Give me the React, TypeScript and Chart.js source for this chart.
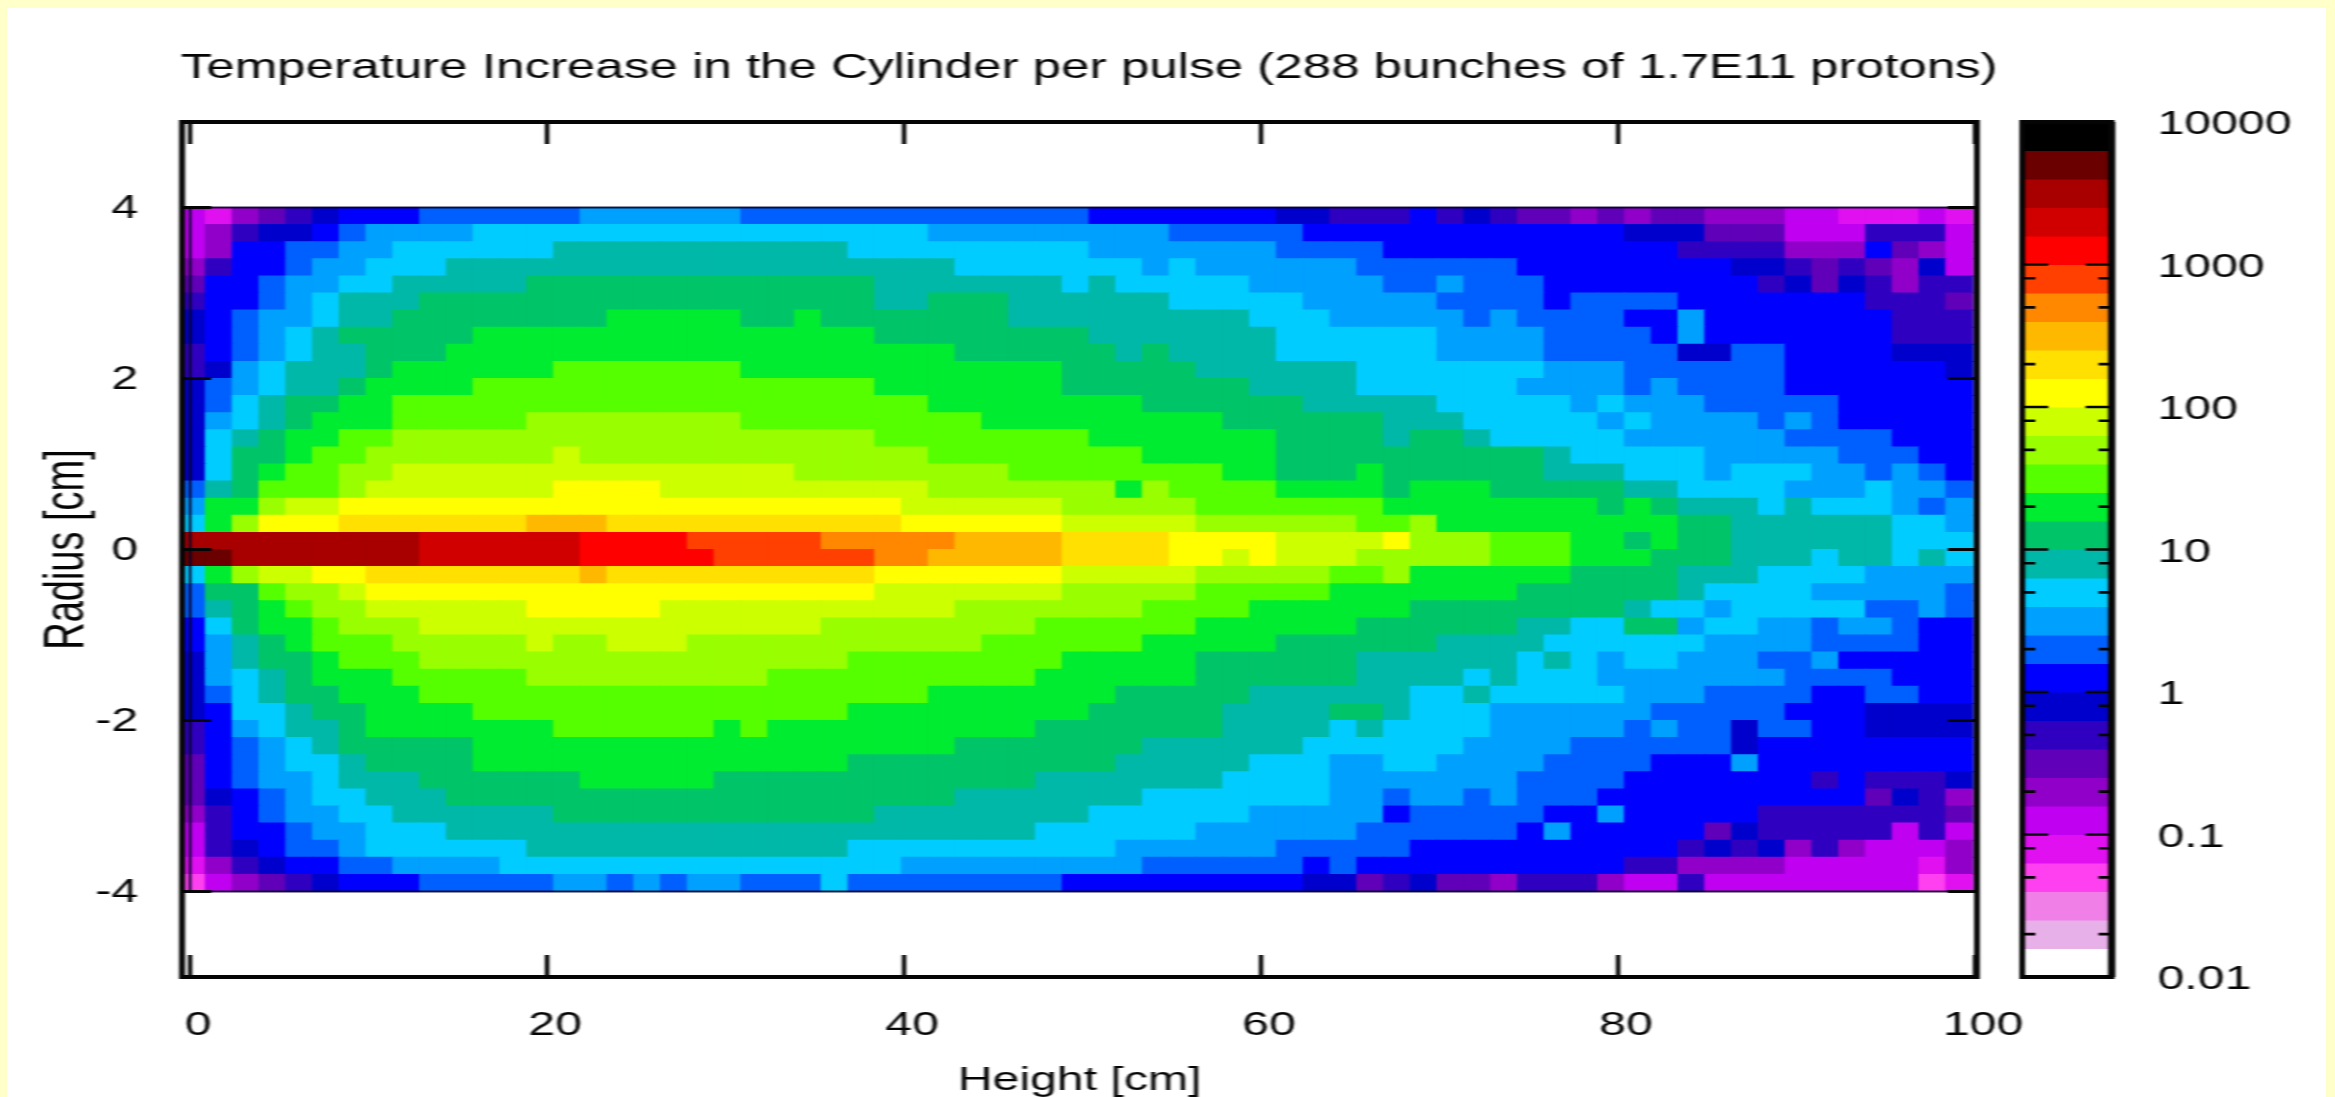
import React, { useEffect, useRef } from "react";
import { Chart, registerables } from "chart.js";

Chart.register(...registerables);

const titleText = "Temperature Increase in the Cylinder per pulse (288 bunches of 1.7E11 protons)";
const xAxisTitle = "Height [cm]";
const yAxisTitle = "Radius [cm]";
const xTickValues = [0, 20, 40, 60, 80, 100];
const yTickValues = [-4, -2, 0, 2, 4];
const colorMajorTicks = [0.01, 0.1, 1, 10, 100, 1000, 10000];
const colorMinorTicks = [0.02, 0.05, 0.08, 0.2, 0.5, 0.8, 2, 5, 8, 20, 50, 80, 200, 500, 800];
const cylinderX = [0, 0, 100, 100, 0];
const cylinderY = [-4, 4, 4, -4, -4];

// 30 colour levels, 0.2 decade each, from 0.01 to 10000
const palette = [
  "#ffffff", "#e8b0e8", "#f080e8", "#ff40f0", "#e010f0", "#c000f0", "#9000c8", "#6000b8", "#3000c0", "#0000cc",
  "#0000ff", "#0060ff", "#00a0ff", "#00ccff", "#00b8a8", "#00c468", "#00ec30", "#55ff00", "#99ff00", "#ccff00",
  "#ffff00", "#ffe000", "#ffb800", "#ff8800", "#ff4000", "#ff0000", "#d00000", "#a80000", "#6a0000", "#000000",
];

// each row, from r = +4 down to r = -4: pairs of (first column of a run, colour level)
const row00 = [0,5,1,4,2,6,3,7,4,8,5,9,6,10,9,11,15,12,21,11,34,10,41,9,43,8,46,10,47,8,48,9,49,8,50,7,52,6,53,7,54,6,55,7,57,6,60,5,62,4,65,5,66,4];
const row01 = [0,5,1,6,2,8,3,9,5,10,6,11,7,12,11,13,28,12,37,11,42,10,54,9,57,7,60,5,63,8,66,5];
const row02 = [0,5,1,6,2,10,4,11,6,12,8,13,14,14,25,13,34,12,41,11,45,10,56,8,60,6,63,10,64,7,65,6,66,5];
const row03 = [0,6,1,8,2,10,4,11,5,12,7,13,10,14,29,13,36,12,37,13,38,12,44,11,50,10,58,9,60,8,61,7,62,8,63,7,64,6,65,9,66,5];
const row04 = [0,7,1,10,3,11,4,12,6,13,8,14,13,15,26,14,33,13,34,14,35,13,40,12,45,11,47,12,48,11,51,10,59,8,60,9,61,7,62,9,63,8,64,6,65,8];
const row05 = [0,8,1,10,3,11,4,12,5,13,6,14,9,15,26,14,28,15,31,14,37,13,42,12,47,11,51,10,52,11,56,10,63,8,66,7];
const row06 = [0,9,1,10,2,11,3,12,5,13,6,14,8,15,16,16,21,15,23,16,24,15,31,14,40,13,43,12,48,11,49,12,50,11,54,10,56,12,57,10,64,8];
const row07 = [0,9,1,10,2,11,3,12,4,13,5,14,6,15,11,16,26,15,34,14,41,13,47,12,51,11,55,10,56,12,57,10,64,8];
const row08 = [0,8,1,10,2,11,3,12,4,13,5,14,7,15,10,16,29,15,35,14,36,15,37,14,41,13,47,12,51,11,56,9,58,11,60,10,64,9];
const row09 = [0,8,1,9,2,12,3,13,4,14,7,15,8,16,14,17,21,16,33,15,38,14,44,13,51,12,54,11,60,10,66,9];
const row10 = [0,9,1,11,2,12,3,13,4,14,6,15,7,16,11,17,26,16,33,15,40,14,44,13,50,12,54,11,55,12,56,11,60,10];
const row11 = [0,9,1,11,2,13,3,14,4,15,6,16,8,17,28,16,36,15,42,14,47,13,52,12,53,13,54,12,57,11,62,10];
const row12 = [0,9,1,12,2,13,3,14,4,15,5,16,8,17,13,18,21,17,30,16,39,15,45,14,48,13,53,12,54,13,55,12,59,11,60,12,61,11,62,10];
const row13 = [0,9,1,13,2,14,3,15,4,16,6,17,8,18,26,17,34,16,41,15,45,14,46,15,48,14,49,13,54,12,60,11,64,10];
const row14 = [0,9,1,13,2,15,4,16,5,17,7,18,14,19,15,18,28,17,36,16,41,15,51,14,52,13,57,12,62,11,65,10];
const row15 = [0,9,1,13,2,15,3,16,4,17,6,18,8,19,23,18,31,17,39,16,41,15,44,16,45,15,51,14,54,13,57,12,58,13,61,12,63,11,64,12,65,11,66,10];
const row16 = [0,11,1,14,2,15,3,17,6,18,7,19,14,20,18,19,28,18,35,16,36,18,37,17,41,16,45,15,46,16,49,15,54,14,56,13,60,12,63,13,64,12,66,11];
const row17 = [0,12,1,16,3,18,4,19,6,20,27,19,33,18,38,17,45,16,53,15,54,16,55,15,56,14,59,13,60,14,61,13,64,12,65,11,66,12];
const row18 = [0,13,1,16,2,18,3,20,6,21,13,22,16,21,27,20,33,19,38,18,44,17,46,18,47,16,56,15,58,14,64,13,66,12];
const row19 = [0,27,9,26,15,25,19,24,24,23,29,22,33,21,37,20,41,19,45,20,46,18,49,17,52,16,54,15,55,16,56,15,58,14,64,13];
const row20 = [0,28,2,27,9,26,15,25,20,24,26,23,28,22,33,21,37,20,39,19,40,20,41,19,44,18,49,17,52,16,55,15,58,14,61,13,62,14,64,13,65,14,66,13];
const row21 = [0,13,1,16,2,18,3,19,5,20,7,21,15,22,16,21,26,20,33,19,38,18,43,17,45,18,46,16,52,15,56,14,59,13,63,12];
const row22 = [0,11,1,15,3,17,4,18,6,19,7,20,26,19,33,18,38,17,43,16,50,15,56,14,57,13,61,12,66,11];
const row23 = [0,11,1,14,2,15,3,16,4,17,5,18,7,19,13,20,18,19,29,18,36,17,40,16,46,15,54,14,55,13,57,12,58,13,63,11,65,12,66,11];
const row24 = [0,10,1,13,2,15,3,16,5,17,6,18,9,19,24,18,32,17,38,16,44,15,50,14,52,13,54,15,56,12,57,13,59,12,61,11,62,12,64,11,65,10];
const row25 = [0,10,1,12,2,14,3,15,4,16,5,17,8,18,13,19,14,18,16,19,19,18,30,17,36,16,41,15,47,14,51,13,57,12,61,11,65,10];
const row26 = [0,9,1,12,2,14,3,15,5,16,6,17,9,18,25,17,33,16,38,15,44,14,50,13,51,14,52,13,53,12,54,13,56,12,59,11,61,12,62,10];
const row27 = [0,9,1,12,2,13,3,14,4,15,5,16,8,17,13,18,22,17,32,16,38,15,44,14,48,13,49,14,50,13,53,12,60,11,64,10];
const row28 = [0,9,1,11,2,13,3,14,4,15,6,16,9,17,28,16,35,15,40,14,46,13,48,14,49,13,54,12,57,11,61,10,63,11,65,10];
const row29 = [0,9,1,10,2,13,4,14,5,15,7,16,11,17,25,16,34,15,39,14,43,15,45,14,46,13,49,12,55,11,60,10,63,9];
const row30 = [0,8,1,10,2,12,3,13,4,14,6,15,7,16,14,17,20,16,21,17,22,16,32,15,39,14,43,13,44,14,45,13,49,12,54,11,55,12,56,11,58,9,59,11,61,10,63,9];
const row31 = [0,8,1,10,2,11,3,12,4,13,5,14,6,15,11,16,29,15,36,14,42,13,48,12,52,11,58,9,59,10];
const row32 = [0,7,1,10,2,11,3,12,4,13,6,14,7,15,11,16,25,15,35,14,40,13,43,12,45,13,47,12,51,11,55,10,58,12,59,10];
const row33 = [0,7,1,10,2,11,3,12,5,13,6,14,9,15,15,16,20,15,32,14,39,13,43,12,50,11,54,10,61,8,62,10,63,8,66,9];
const row34 = [0,7,1,9,2,10,3,11,4,12,5,13,7,14,10,15,29,14,36,13,43,12,45,11,46,12,48,11,49,12,50,11,53,10,63,7,64,9,65,8,66,6];
const row35 = [0,6,1,8,2,10,3,11,4,12,6,13,8,14,14,15,26,14,34,13,40,12,45,10,46,11,51,10,53,12,54,10,59,8,66,7];
const row36 = [0,5,1,8,2,10,4,11,5,12,7,13,10,14,32,13,38,12,44,11,50,10,51,12,52,10,57,7,58,9,59,8,64,5,65,8,66,5];
const row37 = [0,5,1,8,2,9,3,10,4,11,6,12,7,13,13,14,25,13,35,12,41,11,46,10,56,8,57,9,58,8,59,9,60,6,61,8,62,6,63,5,66,6];
const row38 = [0,4,1,6,2,8,3,9,4,10,6,11,8,12,12,13,27,12,36,11,42,10,43,11,44,10,54,8,56,6,60,5,65,4,66,6];
const row39 = [0,3,1,5,2,6,3,7,4,8,5,9,6,10,9,11,14,12,16,11,17,12,18,11,19,12,21,11,24,13,25,11,33,10,42,9,44,7,45,8,46,9,47,7,49,6,50,8,53,6,54,5,56,8,57,5,65,3,66,4];
const levelRows = [
  row00,row01,row02,row03,row04,row05,row06,row07,row08,row09,
  row10,row11,row12,row13,row14,row15,row16,row17,row18,row19,
  row20,row21,row22,row23,row24,row25,row26,row27,row28,row29,
  row30,row31,row32,row33,row34,row35,row36,row37,row38,row39,
];
const columnCount = 67;
const firstColumnCentre = 0.12;
const columnWidth = 1.5;
const rowTop = 4;
const rowHeight = 0.2;

const STRETCH = 1.46;
const px = (v: number) => v / STRETCH;
const INK = "#050505";

const heatPoints: any[] = [];
const heatColors: string[] = [];
levelRows.forEach((runs, j) => {
  for (let r = 0; r < runs.length; r += 2) {
    const end = r + 2 < runs.length ? runs[r + 2] : columnCount;
    for (let c = runs[r]; c < end; c++) {
      const top = rowTop - j * rowHeight;
      heatPoints.push({ x: firstColumnCentre + c * columnWidth, y: [top - rowHeight, top] });
      heatColors.push(palette[runs[r + 1]]);
    }
  }
});

const framePlugin = {
  id: "frame",
  afterDatasetsDraw(chart: any, _a: any, o: any) {
    const { ctx, chartArea: a, scales } = chart;
    ctx.save();
    ctx.strokeStyle = INK;
    ctx.lineWidth = o.tickWidth;
    ctx.beginPath();
    if (scales.x && o.xLen) {
      scales.x.ticks.forEach((t: any) => {
        const p = scales.x.getPixelForValue(t.value);
        ctx.moveTo(p, a.top); ctx.lineTo(p, a.top + o.xLen);
        ctx.moveTo(p, a.bottom); ctx.lineTo(p, a.bottom - o.xLen);
      });
    }
    scales.y.ticks.forEach((t: any) => {
      const p = scales.y.getPixelForValue(t.value);
      const len = t.label ? o.yLen : o.yMinorLen;
      ctx.moveTo(a.left, p); ctx.lineTo(a.left + len, p);
      ctx.moveTo(a.right, p); ctx.lineTo(a.right - len, p);
    });
    ctx.stroke();
    ctx.lineWidth = 4;
    ctx.strokeRect(a.left, a.top, a.right - a.left, a.bottom - a.top);
    if (o.rightWidth) {
      ctx.lineWidth = o.rightWidth;
      ctx.beginPath();
      ctx.moveTo(a.right, a.top); ctx.lineTo(a.right, a.bottom);
      ctx.stroke();
    }
    ctx.restore();
  },
};

export default function App() {
  const mainRef = useRef<HTMLCanvasElement>(null);
  const barRef = useRef<HTMLCanvasElement>(null);

  useEffect(() => {
    document.body.style.margin = "0";
    document.body.style.background = "#ffffca";
    const family = "'Liberation Sans', Arial, sans-serif";

    const main = new Chart(mainRef.current as any, {
      type: "bar",
      data: {
        datasets: [
          {
            type: "bar",
            label: "Temperature increase level",
            data: heatPoints,
            backgroundColor: heatColors,
            borderWidth: 0,
            barPercentage: 1,
            categoryPercentage: 1,
            inflateAmount: 0.5,
            order: 2,
          },
          {
            type: "line",
            label: "Cylinder outline",
            data: cylinderX.map((x, i) => ({ x, y: cylinderY[i] })),
            borderColor: "rgba(5,0,40,0.85)",
            borderWidth: 2,
            pointRadius: 0,
            tension: 0,
            order: 1,
          },
        ] as any,
      },
      options: {
        responsive: false,
        animation: false,
        events: [],
        layout: { padding: 0 },
        plugins: {
          legend: { display: false },
          tooltip: { enabled: false },
          title: {
            display: true,
            text: titleText,
            color: INK,
            font: { family, size: 35, weight: "normal", lineHeight: 1 },
            padding: { top: 51, bottom: 36 },
          },
          frame: { tickWidth: 3, xLen: 22, yLen: 20, yMinorLen: 20 },
        } as any,
        scales: {
          x: {
            type: "linear",
            min: -0.45,
            max: 100.11,
            offset: false,
            grid: { display: false, drawTicks: false },
            border: { display: false },
            afterBuildTicks: (s: any) => { s.ticks = xTickValues.map((value) => ({ value })); },
            afterFit: (s: any) => { s.height = 1097 - 977; },
            ticks: {
              autoSkip: false,
              maxRotation: 0,
              color: INK,
              padding: 32,
              labelOffset: px(8),
              font: { family, size: 33, lineHeight: 1 },
            },
            title: {
              display: true,
              text: xAxisTitle,
              color: INK,
              font: { family, size: 33, lineHeight: 1 },
              padding: { top: 0, bottom: 0 },
            },
          },
          y: {
            type: "linear",
            min: -5,
            max: 5,
            grid: { display: false, drawTicks: false },
            border: { display: false },
            afterBuildTicks: (s: any) => { s.ticks = yTickValues.map((value) => ({ value })); },
            afterFit: (s: any) => { s.width = px(182); },
            ticks: {
              autoSkip: false,
              color: INK,
              padding: px(44),
              labelOffset: 1,
              font: { family, size: 33, lineHeight: 1 },
            },
            title: {
              display: true,
              text: yAxisTitle,
              color: INK,
              font: { family, size: 38, lineHeight: 1 },
              padding: { top: 28, bottom: 0 },
            },
          },
          y2: {
            type: "linear",
            position: "right",
            min: -5,
            max: 5,
            grid: { display: false, drawTicks: false },
            border: { display: false },
            ticks: { display: false },
            afterFit: (s: any) => { s.width = 1492 - px(1977); },
          },
        },
      } as any,
      plugins: [framePlugin],
    });

    const levels = palette.map((_, i) => i);
    const bar = new Chart(barRef.current as any, {
      type: "bar",
      data: {
        labels: ["scale"],
        datasets: [
          {
            label: "Colour scale",
            data: levels.map((l) => ({
              x: 0,
              y: [Math.pow(10, -2 + l * 0.2), Math.pow(10, -2 + (l + 1) * 0.2)],
            })),
            backgroundColor: palette,
            borderWidth: 0,
            barPercentage: 1,
            categoryPercentage: 1,
            inflateAmount: 0.5,
          },
        ],
      },
      options: {
        responsive: false,
        animation: false,
        events: [],
        layout: { padding: { top: 122, bottom: 120, left: px(22) } },
        plugins: {
          legend: { display: false },
          tooltip: { enabled: false },
          frame: { tickWidth: 2.6, yLen: px(26), yMinorLen: px(13), rightWidth: 5 },
        } as any,
        scales: {
          x: {
            type: "linear",
            display: false,
            min: -0.5,
            max: 0.5,
            offset: false,
            grid: { display: false, drawTicks: false },
          },
          y: {
            type: "logarithmic",
            position: "right",
            min: 0.01,
            max: 10000,
            grid: { display: false, drawTicks: false },
            border: { display: false },
            afterBuildTicks: (s: any) => {
              s.ticks = [...colorMajorTicks, ...colorMinorTicks]
                .sort((a, b) => a - b)
                .map((value) => ({ value }));
            },
            afterFit: (s: any) => { s.width = px(2335 - 2112); },
            ticks: {
              autoSkip: false,
              color: INK,
              padding: px(46),
              labelOffset: 3,
              font: { family, size: 33, lineHeight: 1 },
              callback: (v: any) => (colorMajorTicks.includes(Number(v)) ? String(Number(v)) : ""),
            },
          },
        },
      } as any,
      plugins: [framePlugin],
    });

    return () => {
      main.destroy();
      bar.destroy();
    };
  }, []);

  return (
    <div style={{ position: "absolute", left: 0, top: 0, width: 2335, height: 1097, overflow: "hidden", background: "#ffffca" }}>
      <div style={{ position: "absolute", left: 7, top: 8, width: 2319, height: 1089, background: "#ffffff" }} />
      <div
        style={{
          position: "absolute",
          left: 0,
          top: 0,
          width: Math.ceil(2335 / STRETCH),
          height: 1097,
          transform: `scaleX(${STRETCH})`,
          transformOrigin: "0 0",
          filter: "blur(0.7px)",
        }}
      >
        <canvas ref={mainRef} width={1492} height={1097} style={{ position: "absolute", left: 0, top: 0 }} />
        <canvas
          ref={barRef}
          width={Math.round((2335 - 2000) / STRETCH)}
          height={1097}
          style={{ position: "absolute", left: 2000 / STRETCH, top: 0 }}
        />
      </div>
    </div>
  );
}
